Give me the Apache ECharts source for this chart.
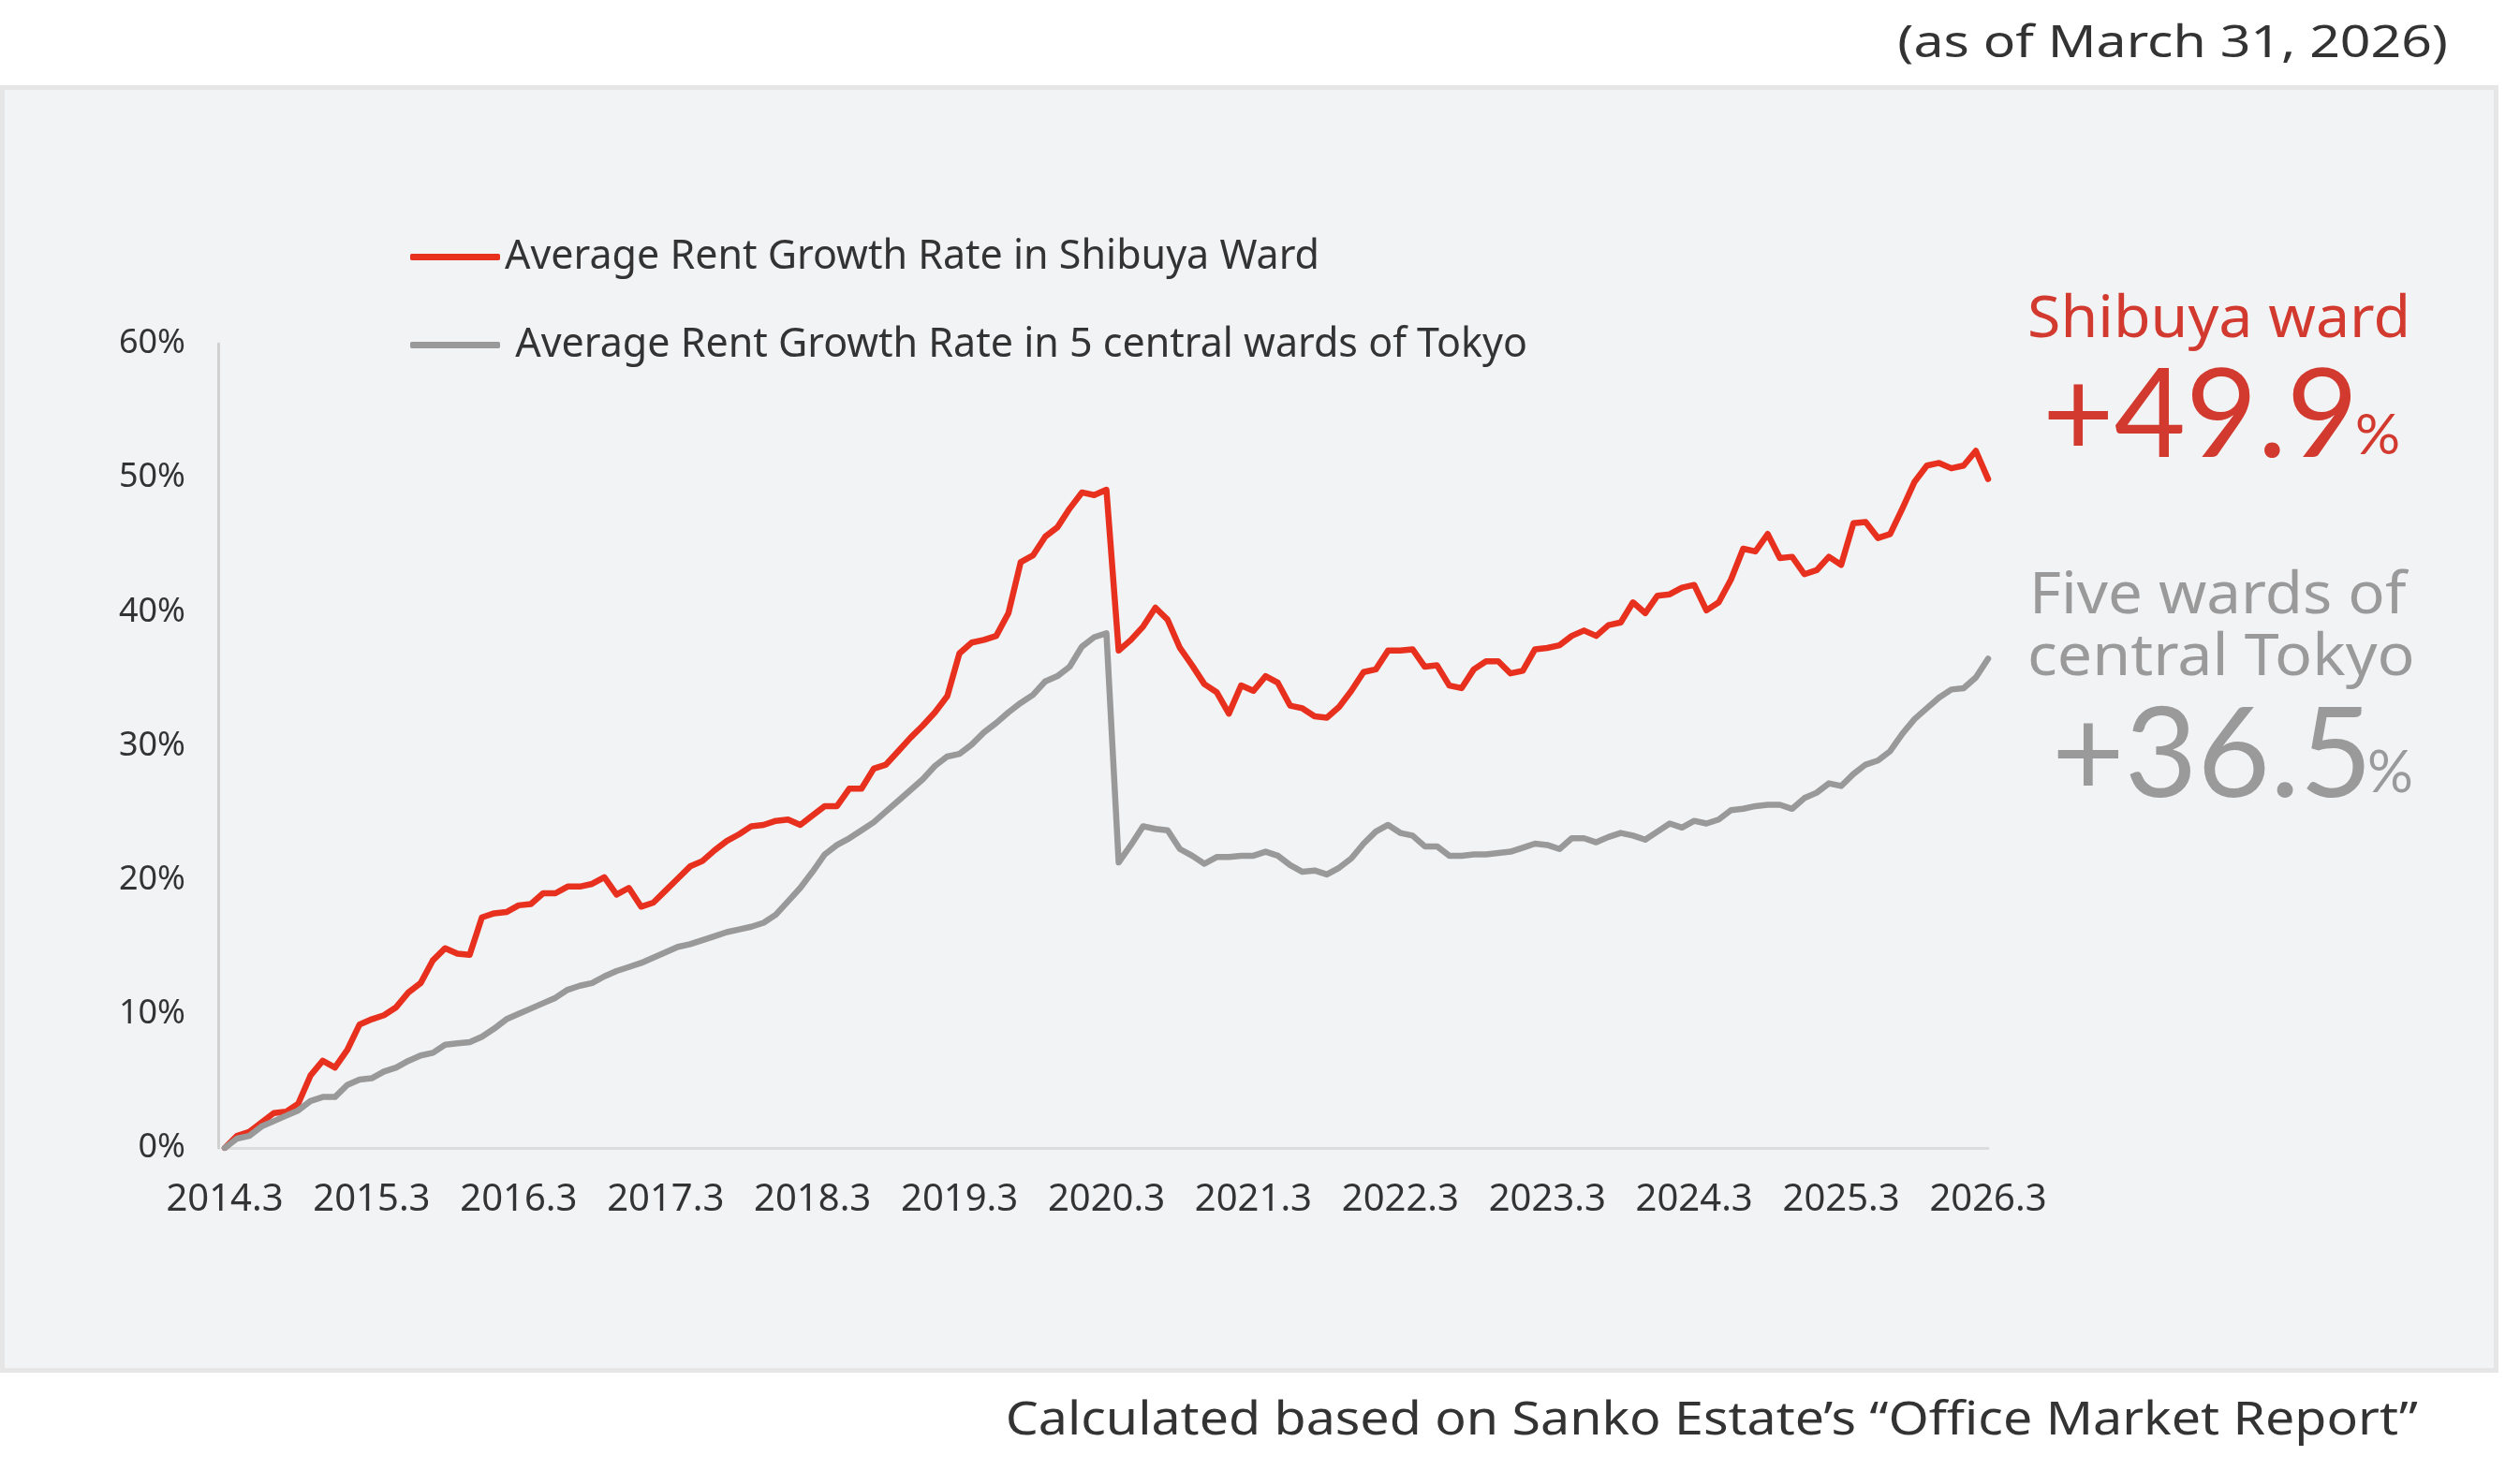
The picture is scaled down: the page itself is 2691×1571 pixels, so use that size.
<!DOCTYPE html>
<html>
<head>
<meta charset="utf-8">
<title>Average Rent Growth Rate</title>
<script src="https://cdn.jsdelivr.net/npm/echarts@6/dist/echarts.min.js"></script>
<style>
  html,body{margin:0;padding:0;background:#fff;}
  #chart{width:2691px;height:1571px;}
</style>
</head>
<body>
<div id="chart"></div>
<script>
// monthly, 2014.3 - 2026.3 (growth vs 2014.3, %)
var shibuyaRate = [
  0, 0.9, 1.2, 1.9, 2.6, 2.7, 3.3, 5.4, 6.5, 6.0, 7.3, 9.2,
  9.6, 9.9, 10.5, 11.6, 12.3, 14.0, 14.9, 14.5, 14.4, 17.2, 17.5, 17.6,
  18.1, 18.2, 19.0, 19.0, 19.5, 19.5, 19.7, 20.2, 18.9, 19.4, 18.0, 18.3,
  19.2, 20.1, 21.0, 21.4, 22.2, 22.9, 23.4, 24.0, 24.1, 24.4, 24.5, 24.1,
  24.8, 25.5, 25.5, 26.8, 26.8, 28.3, 28.6, 29.6, 30.6, 31.5, 32.5, 33.7,
  36.9, 37.7, 37.9, 38.2, 39.9, 43.7, 44.2, 45.6, 46.3, 47.7, 48.9, 48.7,
  49.1, 37.1, 37.9, 38.9, 40.3, 39.4, 37.3, 36.0, 34.6, 34.0, 32.4, 34.5,
  34.1, 35.2, 34.7, 33.0, 32.8, 32.2, 32.1, 32.9, 34.1, 35.5, 35.7, 37.1,
  37.1, 37.2, 35.9, 36.0, 34.5, 34.3, 35.7, 36.3, 36.3, 35.4, 35.6, 37.2,
  37.3, 37.5, 38.2, 38.6, 38.2, 39.0, 39.2, 40.7, 39.9, 41.2, 41.3, 41.8,
  42.0, 40.1, 40.7, 42.4, 44.7, 44.5, 45.8, 44.0, 44.1, 42.8, 43.1, 44.1,
  43.5, 46.6, 46.7, 45.5, 45.8, 47.7, 49.7, 50.9, 51.1, 50.7, 50.9, 52.0,
  49.9
];
var centralFiveRate = [
  0, 0.7, 0.9, 1.6, 2.0, 2.4, 2.8, 3.5, 3.8, 3.8, 4.7, 5.1,
  5.2, 5.7, 6.0, 6.5, 6.9, 7.1, 7.7, 7.8, 7.9, 8.3, 8.9, 9.6,
  10.0, 10.4, 10.8, 11.2, 11.8, 12.1, 12.3, 12.8, 13.2, 13.5, 13.8, 14.2,
  14.6, 15.0, 15.2, 15.5, 15.8, 16.1, 16.3, 16.5, 16.8, 17.4, 18.4, 19.4,
  20.6, 21.9, 22.6, 23.1, 23.7, 24.3, 25.1, 25.9, 26.7, 27.5, 28.5, 29.2,
  29.4, 30.1, 31.0, 31.7, 32.5, 33.2, 33.8, 34.8, 35.2, 35.9, 37.4, 38.1,
  38.4, 21.3, 22.6, 24.0, 23.8, 23.7, 22.3, 21.8, 21.2, 21.7, 21.7, 21.8,
  21.8, 22.1, 21.8, 21.1, 20.6, 20.7, 20.4, 20.9, 21.6, 22.7, 23.6, 24.1,
  23.5, 23.3, 22.5, 22.5, 21.8, 21.8, 21.9, 21.9, 22.0, 22.1, 22.4, 22.7,
  22.6, 22.3, 23.1, 23.1, 22.8, 23.2, 23.5, 23.3, 23.0, 23.6, 24.2, 23.9,
  24.4, 24.2, 24.5, 25.2, 25.3, 25.5, 25.6, 25.6, 25.3, 26.1, 26.5, 27.2,
  27.0, 27.9, 28.6, 28.9, 29.6, 30.9, 32.0, 32.8, 33.6, 34.2, 34.3, 35.1,
  36.5
];
var seriesNames = [
  'Average Rent Growth Rate in Shibuya Ward',
  'Average Rent Growth Rate in 5 central wards of Tokyo'
];
var latestLabels = ['+49.9', '+36.5'];

// category labels "2014.3" ... "2026.3"
var months = [];
for (var k = 0; k < shibuyaRate.length; k++) {
  var m = 3 + k;
  months.push((2014 + Math.floor((m - 1) / 12)) + '.' + ((m - 1) % 12 + 1));
}

var RED = '#e8301e', GRAY = '#999999', TXT = '#333333';
var baseFont = '"Noto Sans", sans-serif';
var numFont = 'Lato, "Noto Sans", sans-serif';

// text helper for the free-standing labels, scaleX widens the glyphs a little
function label(txt, x, y, size, family, color, align, sx) {
  return {
    type: 'text', x: x, y: y, scaleX: sx || 1, silent: true,
    style: {text: txt, font: size + 'px ' + family, fill: color,
            textAlign: align || 'left', textVerticalAlign: 'middle'}
  };
}

var chart = echarts.init(document.getElementById('chart'), null, {renderer: 'canvas'});

var option = {
  animation: false,
  backgroundColor: '#ffffff',
  grid: {left: 240, right: 568, top: 367, bottom: 345},
  legend: [{
    data: [seriesNames[0]],
    left: 433, top: 248,
    icon: 'roundRect', itemWidth: 96, itemHeight: 7,
    selectedMode: false,
    textStyle: {fontFamily: baseFont, fontSize: 43, color: TXT}
  }, {
    data: [seriesNames[1]],
    left: 433, top: 342,
    icon: 'roundRect', itemWidth: 96, itemHeight: 7,
    selectedMode: false,
    formatter: ' {name}',
    textStyle: {fontFamily: baseFont, fontSize: 43, color: TXT}
  }],
  xAxis: {
    type: 'category',
    data: months,
    boundaryGap: false,
    axisLine: {lineStyle: {color: '#dcdcdc', width: 3}},
    axisTick: {show: false},
    axisLabel: {interval: 11, margin: 36, color: TXT, fontFamily: baseFont, fontSize: 40}
  },
  yAxis: {
    type: 'value',
    min: 0, max: 60, interval: 10,
    offset: 7,
    splitLine: {show: false},
    axisLine: {show: true, lineStyle: {color: '#d0d0d0', width: 3}},
    axisTick: {show: false},
    axisLabel: {formatter: '{value}%', margin: 35, color: TXT, fontFamily: baseFont, fontSize: 36}
  },
  series: [{
    name: seriesNames[0],
    type: 'line',
    data: shibuyaRate,
    symbol: 'none',
    color: RED,
    lineStyle: {width: 6.5, color: RED, join: 'round', cap: 'round'},
    emphasis: {disabled: true}
  }, {
    name: seriesNames[1],
    type: 'line',
    data: centralFiveRate,
    symbol: 'none',
    color: GRAY,
    lineStyle: {width: 6.5, color: GRAY, join: 'round', cap: 'round'},
    emphasis: {disabled: true}
  }],
  graphic: [
    // panel background
    {type: 'rect', z: -10, silent: true,
     shape: {x: 2.5, y: 93.5, width: 2663, height: 1370},
     style: {fill: '#f2f3f5', stroke: '#e6e6e6', lineWidth: 5}},
    label('(as of March 31, 2026)', 2614, 47, 48, baseFont, TXT, 'right', 1.19),
    label('Calculated based on Sanko Estate\u2019s \u201cOffice Market Report\u201d', 2582, 1518, 50, baseFont, TXT, 'right', 1.11),
    // latest values on the right
    label('Shibuya ward', 2165, 342, 62, baseFont, '#d33a2f', 'left', 1.04),
    label(latestLabels[0], 2181, 445, 132, numFont, '#d33a2f'),
    label('%', 2515, 466, 60, numFont, '#d33a2f'),
    label('Five wards of', 2167, 637, 62, baseFont, '#9a9a9a', 'left', 1.055),
    label('central Tokyo', 2165, 703, 62, baseFont, '#9a9a9a', 'left', 1.07),
    label(latestLabels[1], 2191, 808, 134, numFont, '#9a9a9a'),
    label('%', 2528, 826, 61, numFont, '#9a9a9a')
  ]
};

chart.setOption(option);
</script>
</body>
</html>
